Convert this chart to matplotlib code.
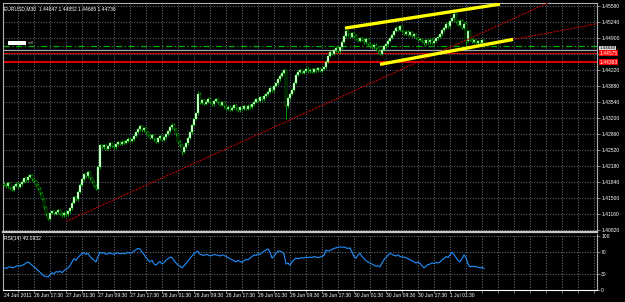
import matplotlib
matplotlib.use('Agg')
import matplotlib.pyplot as plt
import matplotlib.transforms as mtransforms
from matplotlib.patches import Rectangle
import numpy as np

plt.rcParams['font.family'] = ['Liberation Sans', 'DejaVu Sans']

# ---- data (EURUSD M30) ----
first_open = 1.4180
closes = [
    1.4178, 1.4175, 1.4181, 1.4172, 1.4168, 1.4176, 1.4180, 1.4174, 1.4179,
    1.4185, 1.4192, 1.4188, 1.4195, 1.4199, 1.4190, 1.4186,
    1.4178, 1.4170, 1.4160, 1.4148, 1.4130, 1.4115, 1.4106,
    1.4118, 1.4122, 1.4116, 1.4120, 1.4124, 1.4117, 1.4113, 1.4119, 1.4115,
    1.4122, 1.4128, 1.4140, 1.4152, 1.4147, 1.4163,
    1.4178, 1.4190, 1.4200, 1.4196, 1.4205,
    1.4192, 1.4185, 1.4176, 1.4170,
    1.4215, 1.4262,
    1.4258, 1.4262, 1.4255, 1.4260, 1.4266, 1.4261, 1.4258, 1.4264,
    1.4269, 1.4265, 1.4270, 1.4267, 1.4272, 1.4276, 1.4271, 1.4275,
    1.4282, 1.4290, 1.4296, 1.4302, 1.4294, 1.4298, 1.4290,
    1.4284, 1.4278, 1.4283, 1.4275, 1.4270, 1.4277, 1.4281, 1.4274, 1.4279, 1.4285,
    1.4292, 1.4300, 1.4306, 1.4296,
    1.4285, 1.4270, 1.4262, 1.4248, 1.4258, 1.4266,
    1.4278, 1.4290, 1.4305, 1.4318, 1.4330,
    1.4372,
    1.4352, 1.4358, 1.4350, 1.4355, 1.4361, 1.4354, 1.4349, 1.4356, 1.4360, 1.4353, 1.4348, 1.4354,
    1.4345, 1.4340, 1.4344, 1.4338,
    1.4342, 1.4347, 1.4341, 1.4336, 1.4343, 1.4339, 1.4345, 1.4340, 1.4346, 1.4343, 1.4349,
    1.4355, 1.4360, 1.4357, 1.4364, 1.4360, 1.4367, 1.4370,
    1.4376, 1.4383, 1.4379, 1.4388, 1.4394,
    1.4402, 1.4410, 1.4416, 1.4421,
    1.4345, 1.4362,
    1.4372, 1.4380, 1.4395,
    1.4412, 1.4418, 1.4422, 1.4416, 1.4420, 1.4425, 1.4419, 1.4423, 1.4418, 1.4424,
    1.4421, 1.4426, 1.4420, 1.4424, 1.4428,
    1.4440,
    1.4452, 1.4460, 1.4456, 1.4464, 1.4469, 1.4462, 1.4470,
    1.4482, 1.4494, 1.4504, 1.4498, 1.4492, 1.4500, 1.4495,
    1.4488, 1.4484, 1.4490, 1.4486, 1.4481, 1.4487,
    1.4478, 1.4474, 1.4470, 1.4476, 1.4468, 1.4462, 1.4456, 1.4465, 1.4472, 1.4477,
    1.4484, 1.4490, 1.4497, 1.4505, 1.4512, 1.4508, 1.4515,
    1.4505, 1.4499, 1.4503, 1.4497, 1.4502, 1.4495, 1.4498,
    1.4490, 1.4486, 1.4488, 1.4483, 1.4479, 1.4485,
    1.4481, 1.4486, 1.4480, 1.4484, 1.4489, 1.4492, 1.4498,
    1.4506, 1.4512, 1.4520, 1.4515, 1.4526, 1.4532, 1.4540,
    1.4525, 1.4518, 1.4527, 1.4512, 1.4520, 1.4484, 1.4505,
    1.4486, 1.4482, 1.4485, 1.4480, 1.4483, 1.4479,
    1.4485, 1.44736,
]
wick = 0.0003
long_lows = {141: 1.4318, 231: 1.4476, 89: 1.4242}
long_highs = {97: 1.4378, 225: 1.4545}

rsi = [
    41, 40, 42, 43, 41, 42, 44, 45, 44, 46, 47,
    50, 52, 49, 46,
    43, 40, 36, 33, 29, 26, 25, 24,
    28, 32, 30, 34, 33, 35, 32, 36, 38,
    41, 45, 52, 58, 55, 60,
    64, 67, 69, 66, 68,
    62, 58, 55, 52,
    62, 70,
    68, 69, 66, 67, 69, 67, 66, 68, 69, 67, 68, 67, 68, 70, 68, 69,
    72, 75, 77, 76, 70, 66, 60,
    56, 52, 55, 48, 46, 50, 53, 48, 51, 55,
    58, 61, 60, 55,
    50, 46, 44, 41, 45, 49,
    54, 59, 63, 67, 70,
    72, 66, 65, 64, 66, 65, 63, 64, 66, 65, 64, 63, 65, 64, 62, 60, 58,
    56, 54, 52, 55, 53, 51, 54, 57, 56, 59, 62,
    65, 64, 67, 66, 69, 72, 74,
    76, 70, 59, 63, 68, 72,
    72, 70, 67, 48,
    50, 46, 52, 56, 59, 58,
    59, 60, 59, 61, 60, 61, 60, 62, 61, 60, 61, 62, 64,
    74, 72, 73, 75, 77, 78, 79, 80,
    79, 80, 78, 77, 78, 70, 62,
    59, 65, 68, 62, 58, 54, 52,
    50, 48, 46, 44, 45, 43, 50, 56, 60,
    64, 68, 66, 64, 63, 65, 62, 61,
    61, 60, 58, 56, 54, 52, 50, 52, 49, 45, 41, 44,
    47, 48, 50, 49, 51, 50, 52,
    56, 58, 62, 60, 65, 70, 66,
    60, 55, 52, 58, 65, 60, 48,
    43, 44, 43, 44, 42, 41, 42, 40.0932,
]

price_ticks = [1.40820 + 0.0034 * k for k in range(15)]
hidden_tick = 1.44560  # covered by the red price tag in the screenshot
date_labels = ['24 Jun 2011', '26 Jun 17:30', '27 Jun 01:30', '27 Jun 09:30', '27 Jun 17:30',
               '28 Jun 01:30', '28 Jun 09:30', '28 Jun 17:30', '29 Jun 01:30', '29 Jun 09:30',
               '29 Jun 17:30', '30 Jun 01:30', '30 Jun 09:30', '30 Jun 17:30', '1 Jul 01:30']
date_bars = [0] + [15 + 16 * k for k in range(14)]

# horizontal lines (price levels)
green_level = 1.44725
bid_level = 1.44640
red_level_1 = 1.44575
red_level_2 = 1.44383

# trendlines as (bar, price) anchors
long_trend = ([31, 280], [1.4100, 1.4580])
upper_channel = ([170.5, 248], [1.4511, 1.4562])
lower_channel = ([188, 254.5], [1.4434, 1.4487])
lower_ray = ([188, 300], [1.4434, 1.4523])

# ---- figure ----
BG = 'black'
GRID = '#778899'
FRAME = '#b0b0b0'
FS = 3.6

fig = plt.figure(figsize=(6.25, 3.02), dpi=100, facecolor=BG)
ax = fig.add_axes([3 / 625, 1 - 232 / 302, 594 / 625, 229 / 302], facecolor=BG)
ax2 = fig.add_axes([3 / 625, 1 - 290 / 302, 594 / 625, 56 / 302], facecolor=BG, sharex=ax)

n = len(closes)
x = np.arange(n)
opens = np.array([first_open] + closes[:-1])
c = np.array(closes)
highs = np.maximum(opens, c) + wick
lows = np.minimum(opens, c) - wick
for k, v in long_lows.items():
    lows[k] = v
for k, v in long_highs.items():
    highs[k] = v

grid_bars = np.arange(7, 297, 8)
for a in (ax, ax2):
    a.set_xticks(grid_bars)
    a.set_xlim(-0.5, 296.5)
    a.grid(True, color=GRID, linestyle=(0, (1.2, 2)), linewidth=0.6)
    a.set_axisbelow(True)
    a.yaxis.tick_right()
    a.tick_params(axis='y', colors=FRAME, labelcolor='white', labelsize=FS,
                  length=2, width=0.5, pad=1)
    for s in a.spines.values():
        s.set_color(FRAME)
        s.set_linewidth(0.8)

ax.tick_params(axis='x', length=0, labelbottom=False)
ax2.tick_params(axis='x', colors=FRAME, length=2, width=0.5, labelbottom=False)

# main panel
ax.set_ylim(1.40778, 1.45644)
ax.set_yticks(price_ticks)
ax.set_yticklabels(['' if abs(p - hidden_tick) < 1e-6 else f'{p:.5f}' for p in price_ticks])
ax.spines['bottom'].set_linewidth(1.6)
ax.spines['bottom'].set_color('#c8c8c8')

ax.axhline(green_level, color='#00b000', lw=0.9, linestyle=(0, (5, 2, 1, 2)), zorder=2)
ax.axhline(bid_level, color='#a8a8a8', lw=0.9, zorder=2)
ax.axhline(red_level_1, color='#e00000', lw=0.8, zorder=2)
ax.axhline(red_level_2, color='#e00000', lw=1.4, zorder=2)

ax.vlines(x, lows, highs, color='#00e000', lw=0.5, zorder=3)
up = c >= opens
ax.bar(x[up], (c - opens)[up], bottom=opens[up], width=0.6, color='#f0fff0',
       edgecolor='#00e000', linewidth=0.25, zorder=4)
ax.bar(x[~up], (opens - c)[~up], bottom=c[~up], width=0.6, color='black',
       edgecolor='#00e000', linewidth=0.25, zorder=4)

ax.plot(*long_trend, color='#c00000', lw=0.8, linestyle=(0, (2, 1)), zorder=5)
ax.plot(*lower_ray, color='#c00000', lw=0.8, linestyle=(0, (2, 1)), zorder=5)
ax.plot(*upper_channel, color='#ffff00', lw=2.4, solid_capstyle='butt', zorder=6)
ax.plot(*lower_channel, color='#ffff00', lw=2.4, solid_capstyle='butt', zorder=6)

# right-side price tags
tag = mtransforms.blended_transform_factory(ax.transAxes, ax.transData)
ax.text(1.004, bid_level, f'{bid_level:.5f}', transform=tag, fontsize=FS - 0.4, color='black',
        va='bottom', ha='left', bbox=dict(boxstyle='square,pad=0.1', fc='#d8d8d8', ec='none'),
        clip_on=False, zorder=7)
ax.text(1.004, red_level_1, f'{red_level_1:.5f}', transform=tag, fontsize=FS, color='white',
        va='center', ha='left', bbox=dict(boxstyle='square,pad=0.1', fc='#ff0000', ec='none'),
        clip_on=False, zorder=8)
ax.text(1.004, red_level_2, f'{red_level_2:.5f}', transform=tag, fontsize=FS, color='white',
        va='center', ha='left', bbox=dict(boxstyle='square,pad=0.1', fc='#ff0000', ec='none'),
        clip_on=False, zorder=8)

# order marker on the left
ax.add_patch(Rectangle((0.0084, 1.44751), 0.03, 0.00085, transform=tag,
                       fc='white', ec='none', zorder=7))
ax.text(0.042, 1.44793, 'sell', transform=tag, fontsize=3, color='#c0c0c0',
        va='center', ha='left', zorder=7)

ax.text(0.002, 0.985, 'EURUSD,M30  1.44847 1.44852 1.44665 1.44736',
        transform=ax.transAxes, fontsize=FS, color='white', va='top', ha='left')

# RSI panel
ax2.set_ylim(0, 103.7)
ax2.set_yticks([0, 30, 70, 100])
ax2.set_yticklabels(['0', '30', '70', '100'])
ax2.grid(True, axis='y', color=GRID, linestyle=(0, (1.2, 2)), linewidth=0.6)
ax2.spines['top'].set_visible(False)
ax2.spines['bottom'].set_color('white')
ax2.plot(np.arange(len(rsi)), rsi, color='#1e90ff', lw=0.8, zorder=3)
ax2.text(0.002, 0.96, f'RSI(14) {rsi[-1]:.4f}', transform=ax2.transAxes,
         fontsize=FS, color='white', va='top', ha='left')

# date axis labels
dtag = mtransforms.blended_transform_factory(ax2.transData, ax2.transAxes)
for b, lab in zip(date_bars, date_labels):
    ax2.text(b - 0.2, -0.05, lab, transform=dtag, fontsize=FS, color='white',
             va='top', ha='left', clip_on=False)

fig.savefig('out.png', dpi=100, facecolor=BG)
